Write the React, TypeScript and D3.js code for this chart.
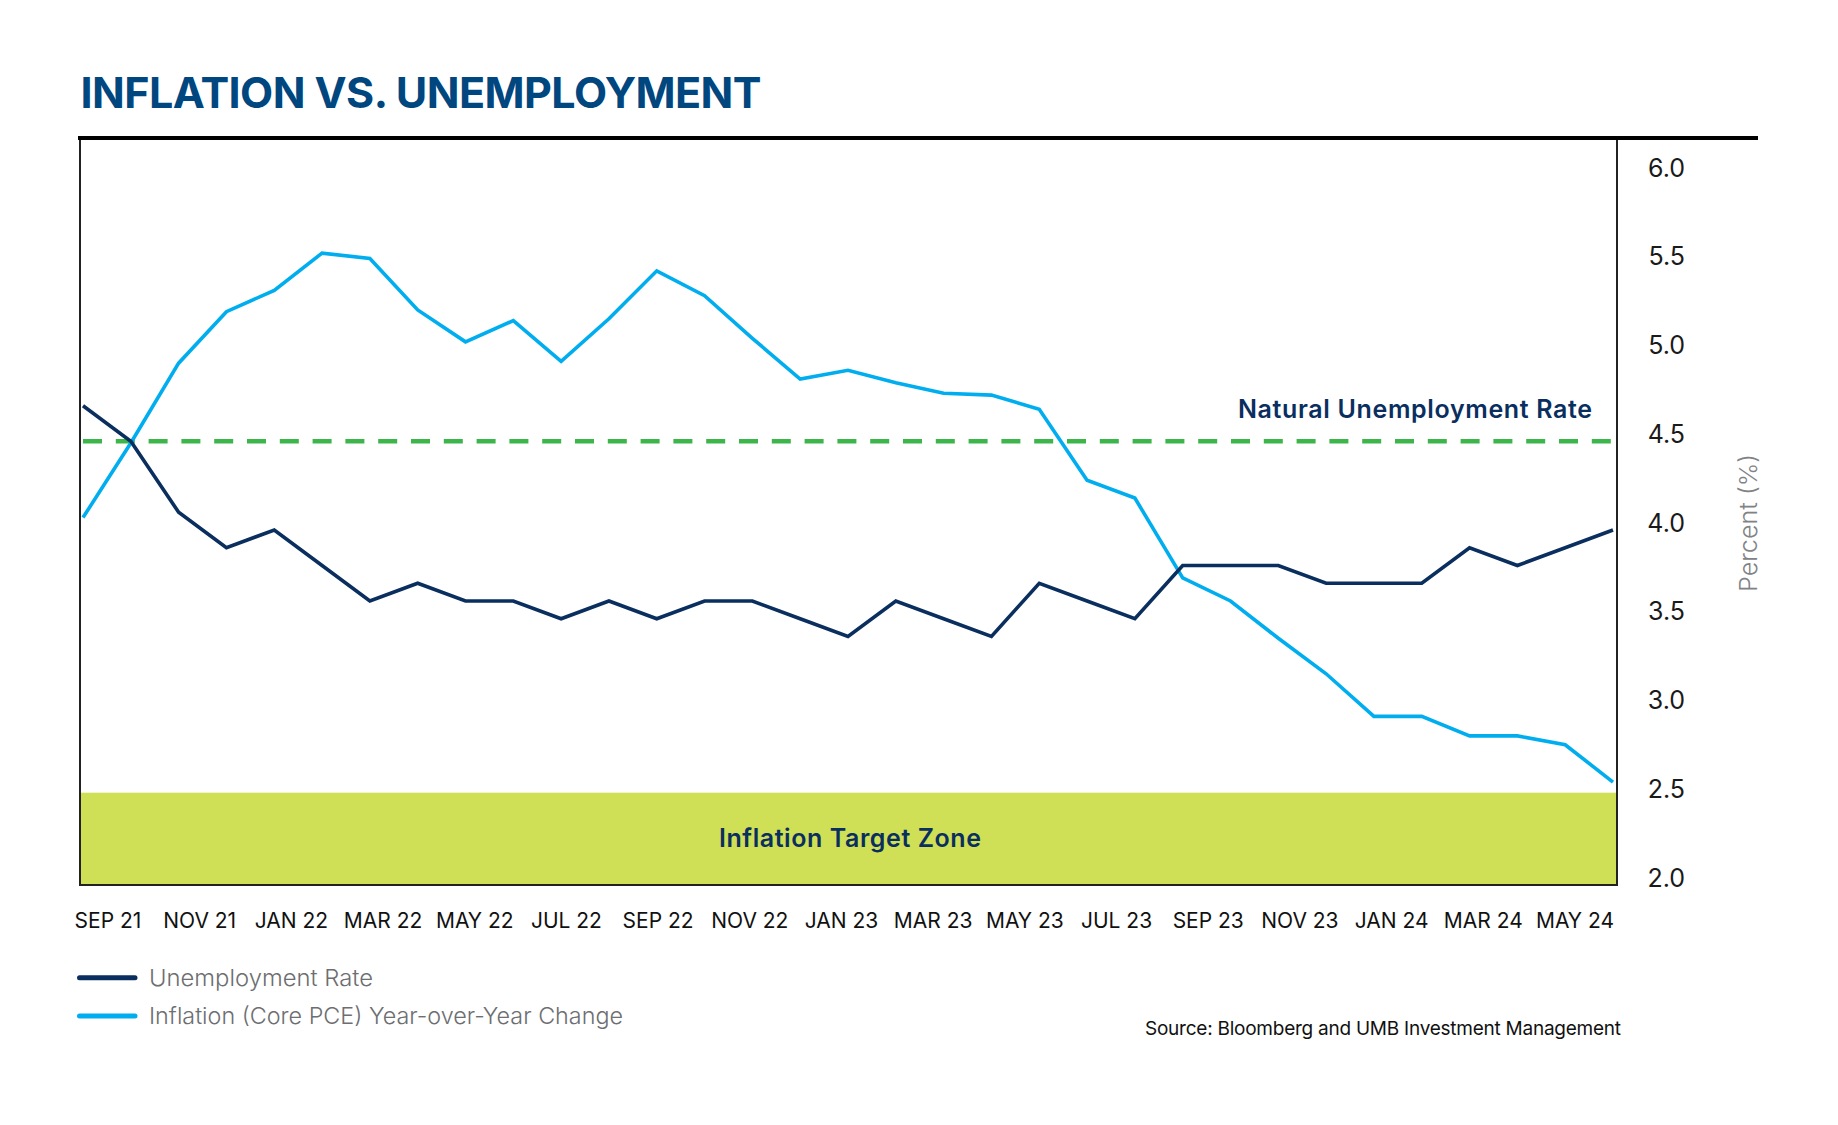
import React from "react";
import * as d3 from "d3";

const months = [
  "2021-09","2021-10","2021-11","2021-12","2022-01","2022-02","2022-03","2022-04","2022-05","2022-06","2022-07","2022-08",
  "2022-09","2022-10","2022-11","2022-12","2023-01","2023-02","2023-03","2023-04","2023-05","2023-06","2023-07","2023-08",
  "2023-09","2023-10","2023-11","2023-12","2024-01","2024-02","2024-03","2024-04","2024-05",
];
const unemployment = [4.7,4.5,4.1,3.9,4.0,3.8,3.6,3.7,3.6,3.6,3.5,3.6,3.5,3.6,3.6,3.5,3.4,3.6,3.5,3.4,3.7,3.6,3.5,3.8,3.8,3.8,3.7,3.7,3.7,3.9,3.8,3.9,4.0];
const inflation = [4.07,4.49,4.94,5.23,5.35,5.56,5.53,5.24,5.06,5.18,4.95,5.19,5.46,5.32,5.08,4.85,4.90,4.83,4.77,4.76,4.68,4.28,4.18,3.73,3.60,3.39,3.19,2.95,2.95,2.84,2.84,2.79,2.58];
const xLabels = ["SEP 21","NOV 21","JAN 22","MAR 22","MAY 22","JUL 22","SEP 22","NOV 22","JAN 23","MAR 23","MAY 23","JUL 23","SEP 23","NOV 23","JAN 24","MAR 24","MAY 24"];
const yTicks = [2.0,2.5,3.0,3.5,4.0,4.5,5.0,5.5,6.0];
const naturalRate = 4.5;
const targetZone = [2.0, 2.52];
const legendItems = ["Unemployment Rate", "Inflation (Core PCE) Year-over-Year Change"];

const FONT = "Inter, 'Noto Sans', sans-serif";
const NAVY = "#0a2f5f";
const LIGHT = "#00aeef";

export default function App() {
  const left = 80, right = 1617, top = 138, bottom = 885;
  const x = d3.scalePoint<string>().domain(months).range([83, 1613]);
  const y = d3.scaleLinear().domain([2, 6.2]).range([bottom, bottom - 4.2 * 177.5]);
  const xl = d3.scalePoint<string>().domain(xLabels).range([108, 1575]);
  const line = d3.line<number>().x((_, i) => x(months[i])!).y((d) => y(d));

  return (
    <svg width={1838} height={1125} style={{ position: "absolute", left: 0, top: 0, background: "#fff" }} fontFamily={FONT}>
      <rect x={0} y={0} width={1838} height={1125} fill="#fff" />
      <text x={80.5} y={108.3} fontSize={43} fontWeight={700} fill="#00467f" textLength={681}>INFLATION VS. UNEMPLOYMENT</text>

      <rect x={left} y={y(targetZone[1])} width={right - left} height={y(targetZone[0]) - y(targetZone[1])} fill="#cfdf56" />
      <text x={850} y={846.7} fontSize={25} fontWeight={600} fill={NAVY} textAnchor="middle" textLength={262}>Inflation Target Zone</text>

      <line x1={left} x2={left} y1={top} y2={bottom + 1} stroke="#222" strokeWidth={2} />
      <line x1={left - 1} x2={right + 1} y1={bottom} y2={bottom} stroke="#222" strokeWidth={2} />
      <line x1={right} x2={right} y1={top} y2={bottom + 1} stroke="#222" strokeWidth={2} />
      <line x1={78} x2={1758} y1={top} y2={top} stroke="#000" strokeWidth={4} />

      <line x1={x(months[0])} x2={x(months[months.length - 1])} y1={y(naturalRate)} y2={y(naturalRate)} stroke="#3cb54a" strokeWidth={4.5} strokeDasharray="19 13.8" />
      <text x={1238} y={418.3} fontSize={25} fontWeight={600} fill={NAVY} textLength={354}>Natural Unemployment Rate</text>

      <path d={line(inflation)!} fill="none" stroke={LIGHT} strokeWidth={3.6} strokeLinejoin="miter" />
      <path d={line(unemployment)!} fill="none" stroke={NAVY} strokeWidth={3.6} strokeLinejoin="miter" />

      {yTicks.map((t) => (
        <text key={t} x={1685} y={y(t) + 1.5} fontSize={25} fill="#1a1a1a" textAnchor="end">{t.toFixed(1)}</text>
      ))}
      <text transform="translate(1757,523) rotate(-90)" fontSize={24} fontWeight={300} fill="#808285" textAnchor="middle" textLength={138} lengthAdjust="spacingAndGlyphs">Percent (%)</text>

      {xLabels.map((l) => (
        <text key={l} x={xl(l)} y={928} fontSize={21} fill="#111" textAnchor="middle">{l}</text>
      ))}

      <line x1={79.5} x2={135} y1={977.7} y2={977.7} stroke={NAVY} strokeWidth={5} strokeLinecap="round" />
      <text x={149} y={986} fontSize={23} fontWeight={300} fill="#6d6e71" textLength={224} lengthAdjust="spacingAndGlyphs">{legendItems[0]}</text>
      <line x1={79.5} x2={135} y1={1016} y2={1016} stroke={LIGHT} strokeWidth={5} strokeLinecap="round" />
      <text x={149} y={1024.3} fontSize={23} fontWeight={300} fill="#6d6e71" textLength={474} lengthAdjust="spacingAndGlyphs">{legendItems[1]}</text>

      <text x={1145} y={1035} fontSize={19} fill="#111" textLength={476}>Source: Bloomberg and UMB Investment Management</text>
    </svg>
  );
}
